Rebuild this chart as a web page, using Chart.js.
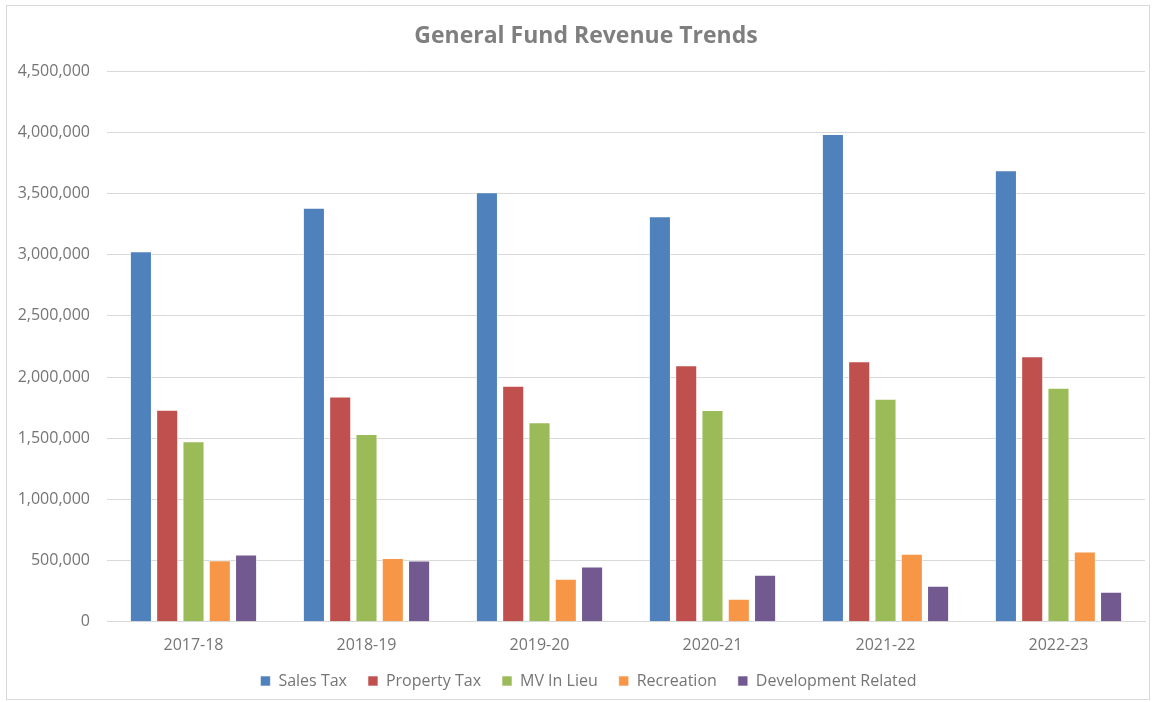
<!DOCTYPE html>
<html>
<head>
<meta charset="utf-8">
<script src="https://cdn.jsdelivr.net/npm/chart.js@4.4.0/dist/chart.umd.min.js"></script>
<style>
    body { margin: 0; background: #ffffff; }
    #wrap { position: relative; width: 1155px; height: 702px; }
</style>
</head>
<body>
<div id="wrap"><canvas id="chart" width="1155" height="702"></canvas></div>
<script>
// ## data ##
var years = ['2017-18', '2018-19', '2019-20', '2020-21', '2021-22', '2022-23'];
var salesTax = [3027000, 3383000, 3511000, 3314000, 3986000, 3689000];
var propertyTax = [1732000, 1842000, 1929000, 2096000, 2129000, 2170000];
var mvInLieu = [1475000, 1535000, 1631000, 1730000, 1822000, 1912000];
var recreation = [502000, 522000, 352000, 189000, 557000, 574000];
var developmentRelated = [549000, 500000, 451000, 385000, 295000, 246000];
var yTicks = [0, 500000, 1000000, 1500000, 2000000, 2500000, 3000000, 3500000, 4000000, 4500000];

var textGray = '#757575';
var gridGray = '#d9d9d9';

// outer frame like the excel chart box
var frame = {
    id: 'frame',
    beforeDraw: function (chart) {
        var ctx = chart.ctx;
        ctx.save();
        ctx.fillStyle = '#ffffff';
        ctx.fillRect(0, 0, chart.width, chart.height);
        ctx.strokeStyle = '#d9d9d9';
        ctx.lineWidth = 1;
        ctx.strokeRect(6.5, 5.5, 1143, 694);
        ctx.restore();
    }
};

// excel centres title + legend on the whole box, not on the space right of the axis
var nudge = {
    id: 'nudge',
    afterLayout: function (chart) {
        chart.titleBlock.left += 27;
        chart.legend.left += 32;
        chart.legend.top -= 9;
        chart.legend.bottom -= 9;
    }
};

function makeSet(label, values, color) {
    return {
        label: label,
        data: values,
        backgroundColor: color,
        borderColor: 'rgba(255,255,255,0.6)',
        borderWidth: 1,
        barPercentage: 0.84,
        categoryPercentage: 0.76
    };
}

Chart.defaults.font.family = '"Open Sans", Lato, sans-serif';
Chart.defaults.color = textGray;

var chart = new Chart(document.getElementById('chart').getContext('2d'), {
    type: 'bar',
    data: {
        labels: years,
        datasets: [
            makeSet('Sales Tax', salesTax, '#4f81bd'),
            makeSet('Property Tax', propertyTax, '#c0504d'),
            makeSet('MV In Lieu', mvInLieu, '#9bbb59'),
            makeSet('Recreation', recreation, '#f79646'),
            makeSet('Development Related', developmentRelated, '#72598f')
        ]
    },
    plugins: [frame, nudge],
    options: {
        responsive: false,
        animation: false,
        layout: {
            padding: { left: 0, right: 10, top: 0, bottom: -6 }
        },
        plugins: {
            title: {
                display: true,
                text: 'General Fund Revenue Trends',
                color: '#7f7f7f',
                font: { size: 23, weight: 'bold' },
                padding: { top: 22.5, bottom: 21 }
            },
            legend: {
                position: 'bottom',
                labels: {
                    boxWidth: 10,
                    boxHeight: 10,
                    padding: 21,
                    color: textGray,
                    font: { size: 16 }
                }
            },
            tooltip: { enabled: false }
        },
        scales: {
            x: {
                grid: { display: false },
                border: { display: true, color: gridGray },
                ticks: { color: textGray, font: { size: 16 }, padding: 6 }
            },
            y: {
                min: 0,
                max: 4500000,
                afterFit: function (scale) { scale.width = 107; },
                afterBuildTicks: function (scale) {
                    scale.ticks = yTicks.map(function (v) { return { value: v }; });
                },
                grid: { color: gridGray, drawTicks: false },
                border: { display: false },
                ticks: {
                    color: textGray,
                    font: { size: 16 },
                    padding: 17,
                    callback: function (v) { return v.toLocaleString('en-US'); }
                }
            }
        }
    }
});
</script>
</body>
</html>
